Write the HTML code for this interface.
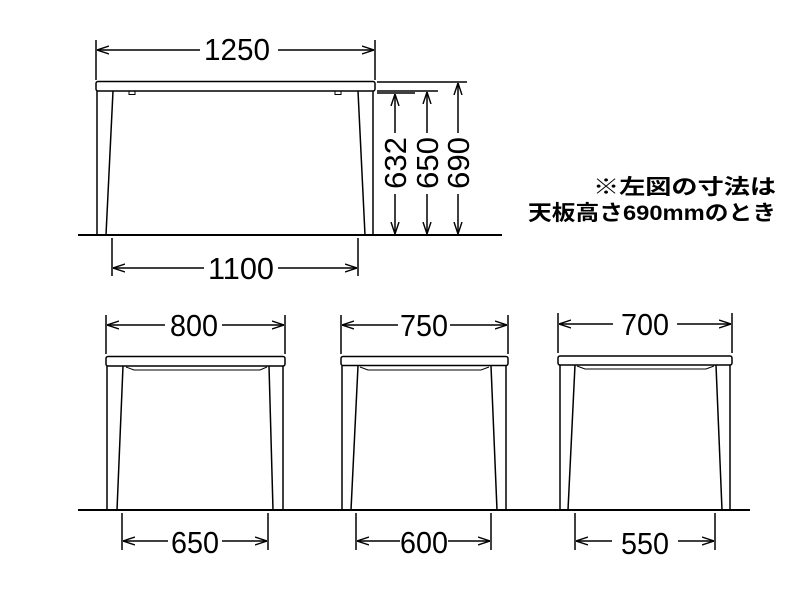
<!DOCTYPE html>
<html><head><meta charset="utf-8"><style>
html,body{margin:0;padding:0;background:#fff;width:800px;height:600px;overflow:hidden}
svg{display:block}
.n{font-family:"Liberation Sans Narrow","Liberation Sans",sans-serif;font-size:31px;fill:#000}
.j{font-family:"Liberation Sans","Noto Sans CJK JP",sans-serif;font-size:21px;font-weight:bold;fill:#000}
</style></head><body>
<svg width="800" height="600" viewBox="0 0 800 600" xmlns="http://www.w3.org/2000/svg">
<defs>
<marker id="a" viewBox="0 0 12 10" refX="12" refY="5" markerWidth="12" markerHeight="10" markerUnits="userSpaceOnUse" orient="auto-start-reverse">
<path d="M0,1 L12,5 L0,9" fill="none" stroke="#000" stroke-width="1.4"/>
</marker>
</defs>
<g stroke="#000" stroke-width="1.5" fill="none">
<line x1="78" y1="235" x2="502" y2="235" stroke-width="2"/>
<line x1="78" y1="510" x2="750" y2="510" stroke-width="2"/>

<rect x="96" y="81.5" width="279" height="9.5" rx="2"/>
<line x1="97" y1="91" x2="97" y2="235"/><line x1="113" y1="91" x2="106" y2="235"/>
<line x1="373" y1="91" x2="373" y2="235"/><line x1="358" y1="91" x2="365" y2="235"/>
<rect x="129" y="91" width="6" height="3.5" stroke-width="1"/>
<rect x="335" y="91" width="6" height="3.5" stroke-width="1"/>
<line x1="96" y1="40" x2="96" y2="80"/><line x1="375" y1="40" x2="375" y2="80"/>
<line x1="97" y1="50" x2="200" y2="50" marker-start="url(#a)"/>
<line x1="278" y1="50" x2="374" y2="50" marker-end="url(#a)"/>
<line x1="112" y1="238" x2="112" y2="276"/><line x1="358" y1="238" x2="358" y2="276"/>
<line x1="113" y1="268" x2="204" y2="268" marker-start="url(#a)"/>
<line x1="278" y1="268" x2="357" y2="268" marker-end="url(#a)"/>
<line x1="377" y1="82" x2="467" y2="82"/>
<line x1="377" y1="91" x2="438" y2="91"/>
<line x1="377" y1="93" x2="415" y2="93"/>
<line x1="395" y1="94" x2="395" y2="133" marker-start="url(#a)"/>
<line x1="395" y1="194" x2="395" y2="234" marker-end="url(#a)"/>
<line x1="427" y1="92" x2="427" y2="133" marker-start="url(#a)"/>
<line x1="427" y1="194" x2="427" y2="234" marker-end="url(#a)"/>
<line x1="458" y1="83" x2="458" y2="133" marker-start="url(#a)"/>
<line x1="458" y1="194" x2="458" y2="234" marker-end="url(#a)"/>

<rect x="106" y="356.5" width="179" height="9.5" rx="2"/>
<line x1="107" y1="366" x2="107" y2="510"/><line x1="123" y1="366" x2="117" y2="510"/>
<line x1="283" y1="366" x2="283" y2="510"/><line x1="269" y1="366" x2="273" y2="510"/>
<path d="M126,367 L134,370 L260,370 L267,367" stroke-width="1"/>
<line x1="106" y1="315" x2="106" y2="354"/><line x1="285" y1="315" x2="285" y2="354"/>
<line x1="107" y1="325" x2="165" y2="325" marker-start="url(#a)"/>
<line x1="222" y1="325" x2="284" y2="325" marker-end="url(#a)"/>
<line x1="122" y1="513" x2="122" y2="550"/><line x1="268" y1="513" x2="268" y2="550"/>
<line x1="123" y1="541" x2="168" y2="541" marker-start="url(#a)"/>
<line x1="222" y1="541" x2="267" y2="541" marker-end="url(#a)"/>

<rect x="341" y="356.5" width="167" height="9" rx="2"/>
<line x1="342" y1="366" x2="342" y2="510"/><line x1="358" y1="366" x2="351" y2="510"/>
<line x1="506" y1="366" x2="506" y2="510"/><line x1="491" y1="366" x2="497" y2="510"/>
<path d="M360,367 L368,370 L481,370 L489,367" stroke-width="1"/>
<line x1="341" y1="315" x2="341" y2="354"/><line x1="508" y1="315" x2="508" y2="354"/>
<line x1="342" y1="325" x2="398" y2="325" marker-start="url(#a)"/>
<line x1="450" y1="325" x2="507" y2="325" marker-end="url(#a)"/>
<line x1="356" y1="513" x2="356" y2="550"/><line x1="491" y1="513" x2="491" y2="550"/>
<line x1="357" y1="541" x2="400" y2="541" marker-start="url(#a)"/>
<line x1="448" y1="541" x2="490" y2="541" marker-end="url(#a)"/>

<rect x="558" y="356" width="174" height="9" rx="2"/>
<line x1="560" y1="365" x2="560" y2="510"/><line x1="575" y1="365" x2="568" y2="510"/>
<line x1="730" y1="365" x2="730" y2="510"/><line x1="716" y1="365" x2="722" y2="510"/>
<path d="M577,366 L585,369 L706,369 L714,366" stroke-width="1"/>
<line x1="558" y1="313" x2="558" y2="353"/><line x1="732" y1="313" x2="732" y2="353"/>
<line x1="559" y1="324" x2="613" y2="324" marker-start="url(#a)"/>
<line x1="677" y1="324" x2="731" y2="324" marker-end="url(#a)"/>
<line x1="575" y1="513" x2="575" y2="550"/><line x1="715" y1="513" x2="715" y2="550"/>
<line x1="576" y1="541" x2="612" y2="541" marker-start="url(#a)"/>
<line x1="678" y1="541" x2="714" y2="541" marker-end="url(#a)"/>
</g>

<text class="n" x="237" y="60" text-anchor="middle" textLength="66" lengthAdjust="spacingAndGlyphs">1250</text>
<text class="n" x="241" y="279" text-anchor="middle" textLength="66" lengthAdjust="spacingAndGlyphs">1100</text>
<text class="n" x="194" y="336" text-anchor="middle" textLength="48" lengthAdjust="spacingAndGlyphs">800</text>
<text class="n" x="195" y="553" text-anchor="middle" textLength="48" lengthAdjust="spacingAndGlyphs">650</text>
<text class="n" x="424" y="336" text-anchor="middle" textLength="48" lengthAdjust="spacingAndGlyphs">750</text>
<text class="n" x="424" y="553" text-anchor="middle" textLength="48" lengthAdjust="spacingAndGlyphs">600</text>
<text class="n" x="645" y="335" text-anchor="middle" textLength="48" lengthAdjust="spacingAndGlyphs">700</text>
<text class="n" x="645" y="554" text-anchor="middle" textLength="48" lengthAdjust="spacingAndGlyphs">550</text>
<text class="n" transform="translate(406,163) rotate(-90)" text-anchor="middle" textLength="52" lengthAdjust="spacingAndGlyphs">632</text>
<text class="n" transform="translate(438,163) rotate(-90)" text-anchor="middle" textLength="52" lengthAdjust="spacingAndGlyphs">650</text>
<text class="n" transform="translate(469,163) rotate(-90)" text-anchor="middle" textLength="52" lengthAdjust="spacingAndGlyphs">690</text>

<text class="j" x="776" y="194" text-anchor="end" textLength="183" lengthAdjust="spacingAndGlyphs">※左図の寸法は</text>
<text class="j" x="776" y="220" text-anchor="end" textLength="248" lengthAdjust="spacingAndGlyphs">天板高さ690mmのとき</text>
</svg>
</body></html>
